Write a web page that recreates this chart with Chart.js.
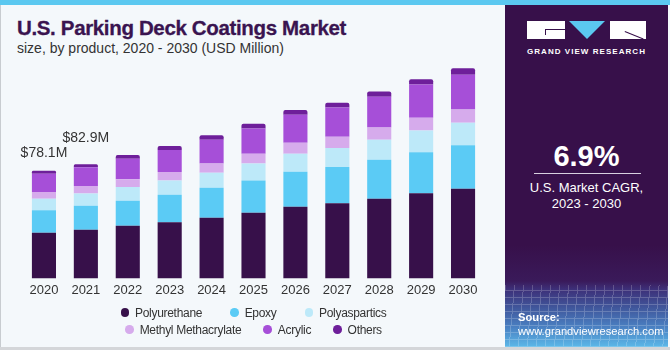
<!DOCTYPE html>
<html>
<head>
<meta charset="utf-8">
<script src="https://cdn.jsdelivr.net/npm/chart.js@4.4.0/dist/chart.umd.min.js"></script>
<style>
  html, body { margin: 0; padding: 0; }
  body { width: 670px; height: 350px; position: relative; overflow: hidden; background: #f4f8fb; font-family: "Liberation Sans", Arial, sans-serif; }
  #topbar { position: absolute; left: 0; top: 0; width: 670px; height: 5px; background: #5bc8f0; }
  #leftline { position: absolute; left: 0; top: 5px; width: 1px; height: 345px; background: #c8ccd0; }
  #bottomline { position: absolute; left: 0; top: 347px; width: 670px; height: 3px; background: #d4d6d9; }
  #title { position: absolute; left: 17px; top: 16px; font-size: 20.5px; font-weight: bold; color: #3a1450; white-space: nowrap; letter-spacing: -0.35px; -webkit-text-stroke: 0.3px #3a1450; }
  #subtitle { position: absolute; left: 17px; top: 40px; font-size: 14px; color: #333; white-space: nowrap; }
  #chartwrap { position: absolute; left: 0; top: 0; width: 505px; height: 306px; }
  #legend { position: absolute; left: 23px; width: 461px; top: 304px; font-size: 12px; letter-spacing: -0.3px; color: #333; }
  .lrow { display: flex; justify-content: center; height: 17px; align-items: center; }
  .litem { display: flex; align-items: center; white-space: nowrap; }
  .ldot { width: 8.5px; height: 8.5px; border-radius: 50%; margin-right: 6px; }
  #panel { position: absolute; left: 505px; top: 5px; width: 163px; height: 342px; background: #37104a; overflow: hidden; }
  #panelbottom { position: absolute; left: 0; top: 240px; width: 163px; height: 102px;
    background: linear-gradient(to bottom, #37104a 0px, #3a1a5a 36px, #3d2f78 44px, #40559a 62px, #4a80c2 82px, #5cb8e8 102px); }
  #grid { position: absolute; left: 0; top: 280px; width: 163px; height: 62px; opacity: 0.22;
    background-image: repeating-linear-gradient(95deg, rgba(255,255,255,0.9) 0 1px, transparent 1px 9px),
                      repeating-linear-gradient(0deg, rgba(255,255,255,0.9) 0 1px, transparent 1px 7px); }
  .blk { position: absolute; background: #ffffff; }
  #tri { position: absolute; left: 64px; top: 16px; width: 0; height: 0; border-left: 18.5px solid transparent; border-right: 18.5px solid transparent; border-top: 18px solid #5bc8f0; }
  #gvr { position: absolute; left: 0; width: 163px; top: 42px; text-align: center; color: #fff; font-size: 8px; font-weight: bold; letter-spacing: 1.05px; }
  #cagr { position: absolute; left: 0; width: 163px; top: 135px; text-align: center; color: #fff; font-size: 29px; font-weight: bold; }
  #rule { position: absolute; left: 29px; top: 168px; width: 107px; height: 1px; background: #d8d0e0; }
  #cagrtxt { position: absolute; left: 0; width: 163px; top: 175px; text-align: center; color: #fff; font-size: 13px; line-height: 16px; }
  #src { position: absolute; left: 13px; top: 305px; color: #fff; font-size: 11.2px; line-height: 14px; }
</style>
</head>
<body>
<div id="topbar"></div>
<div id="leftline"></div>
<div id="bottomline"></div>
<div id="title">U.S. Parking Deck Coatings Market</div>
<div id="subtitle">size, by product, 2020 - 2030 (USD Million)</div>
<div id="chartwrap"><canvas id="c"></canvas></div>
<div id="legend"></div>
<div id="panel">
  <div id="panelbottom"></div>
  <div id="grid"></div>
  <div class="blk" style="left:22px;top:16px;width:38px;height:18px;"></div>
  <div style="position:absolute;left:40px;top:24px;width:20px;height:1px;background:#37104a;"></div>
  <div style="position:absolute;left:40px;top:24px;width:1px;height:6px;background:#37104a;"></div>
  <div id="tri"></div>
  <div class="blk" style="left:105px;top:16px;width:36px;height:18px;"></div>
  <div style="position:absolute;left:120px;top:26px;width:20px;height:1px;background:#37104a;transform:rotate(22deg);transform-origin:0 0;"></div>
  <div id="gvr">GRAND VIEW RESEARCH</div>
  <div id="cagr">6.9%</div>
  <div id="rule"></div>
  <div id="cagrtxt">U.S. Market CAGR,<br>2023 - 2030</div>
  <div id="src"><b>Source:</b><br>www.grandviewresearch.com</div>
</div>
<script>
const years = ['2020','2021','2022','2023','2024','2025','2026','2027','2028','2029','2030'];
const polyurethane = [33.1, 35.3, 38.2, 40.7, 44.0, 47.7, 52.0, 54.5, 57.8, 61.8, 65.1];
const epoxy        = [16.3, 17.4, 18.2, 20.1, 21.8, 23.3, 25.4, 26.4, 28.3, 29.8, 31.5];
const polyaspartics= [ 8.4,  9.0, 10.0, 10.2, 10.9, 12.4, 13.1, 13.8, 14.5, 15.7, 16.4];
const methylMeth   = [ 4.9,  5.3,  5.6,  6.3,  6.8,  7.0,  8.0,  8.2,  9.0,  9.4,  9.7];
const acrylic      = [13.3, 13.7, 14.8, 16.0, 17.2, 18.4, 20.3, 21.1, 22.2, 24.0, 25.1];
const others       = [ 2.1,  2.2,  2.7,  2.9,  3.2,  3.4,  3.4,  3.6,  3.9,  3.9,  4.7];
const labelledYears = ['2020', '2021'];

const seriesNames = ['Polyurethane','Epoxy','Polyaspartics','Methyl Methacrylate','Acrylic','Others'];
const seriesData = [polyurethane, epoxy, polyaspartics, methylMeth, acrylic, others];
const seriesColors = ['#37104a','#5bcbf5','#bde9f9','#d6abec','#a64fd8','#6e1f9a'];

const datasets = seriesNames.map((n, i) => ({
  label: n,
  data: seriesData[i],
  backgroundColor: seriesColors[i],
  borderWidth: 0,
  borderRadius: i === seriesNames.length - 1 ? {topLeft: 2, topRight: 2} : 0,
  borderSkipped: false,
  barPercentage: 0.575,
  categoryPercentage: 1.0
}));

const totalLabels = {
  id: 'totalLabels',
  afterDatasetsDraw(chart) {
    const ctx = chart.ctx;
    const x = chart.scales.x, y = chart.scales.y;
    ctx.save();
    ctx.font = '14px "Liberation Sans", Arial, sans-serif';
    ctx.fillStyle = '#333';
    ctx.textAlign = 'center';
    ctx.textBaseline = 'middle';
    const gaps = [18, 26];
    labelledYears.forEach((yr, k) => {
      const i = years.indexOf(yr);
      const tot = seriesData.reduce((s, arr) => s + arr[i], 0);
      const px = x.getPixelForValue(i);
      const py = y.getPixelForValue(tot) - gaps[k];
      ctx.fillText('$' + tot.toFixed(1) + 'M', px, py);
    });
    ctx.restore();
  }
};

const chart = new Chart(document.getElementById('c'), {
  type: 'bar',
  data: { labels: years, datasets },
  options: {
    responsive: true,
    maintainAspectRatio: false,
    animation: false,
    layout: { padding: { left: 23, right: 21, top: 58, bottom: 4 } },
    plugins: { legend: { display: false }, tooltip: { enabled: false } },
    scales: {
      x: {
        stacked: true,
        grid: { display: false, drawTicks: false },
        border: { display: false },
        ticks: { color: '#333', font: { size: 13, family: '"Liberation Sans", Arial, sans-serif' }, padding: 4, maxRotation: 0 }
      },
      y: {
        stacked: true,
        display: false,
        min: 0,
        max: 160
      }
    }
  },
  plugins: [totalLabels]
});

// legend built from the chart's datasets
const legend = document.getElementById('legend');
[[0,1,2],[3,4,5]].forEach((row, r) => {
  const div = document.createElement('div');
  div.className = 'lrow';
  div.style.gap = r === 0 ? '28px' : '22px';
  row.forEach(i => {
    const it = document.createElement('div');
    it.className = 'litem';
    const dot = document.createElement('span');
    dot.className = 'ldot';
    dot.style.background = chart.data.datasets[i].backgroundColor;
    it.appendChild(dot);
    it.appendChild(document.createTextNode(chart.data.datasets[i].label));
    div.appendChild(it);
  });
  legend.appendChild(div);
});
</script>
</body>
</html>
